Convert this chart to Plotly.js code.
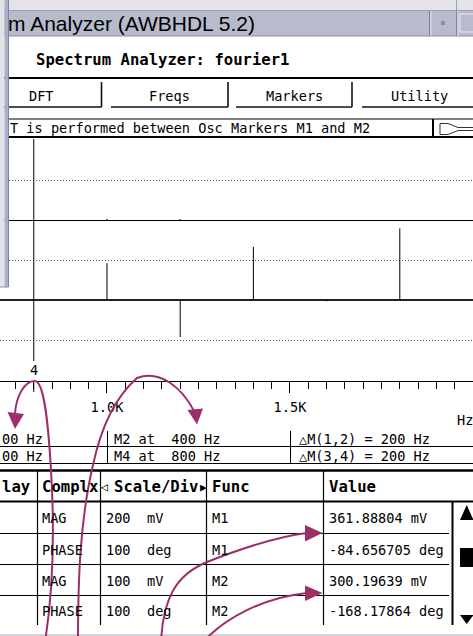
<!DOCTYPE html>
<html><head><meta charset="utf-8">
<script src="https://cdn.plot.ly/plotly-3.0.1.min.js"></script>
<style>html,body{margin:0;padding:0;background:#fff;overflow:hidden}</style>
</head><body><div id="chart" style="width:473px;height:636px"></div>
<script>
// ---------------- data ----------------
const specFreqs   = [1000, 1200, 1400, 1600, 1800];   // Hz
const lowerValues = [92, -93, 133, -3, 179];           // mV (lower trace)
const upperValues = [2, 2, 0, 0, 0];                   // mV (upper trace)
const markerNames = ['M1', 'M2', 'M3', 'M4'];
const markerFreqs = [200, 400, 600, 800];              // Hz
const xTickVals   = [1000, 1500, 2000];
const xTickText   = ['1.0K', '1.5K', ''];
const buttonLabels = ['DFT', 'Freqs', 'Markers', 'Utility'];
const tableHeader = ['lay', 'Complx', 'Scale/Div', 'Func', 'Value'];
const rowComplex  = ['MAG', 'PHASE', 'MAG', 'PHASE'];
const rowScale    = ['200', '100', '100', '100'];
const rowUnit     = ['mV', 'deg', 'mV', 'deg'];
const rowFunc     = ['M1', 'M1', 'M2', 'M2'];
const rowValue    = ['361.88804 mV', '-84.656705 deg', '300.19639 mV', '-168.17864 deg'];
const windowTitle = 'm Analyzer (AWBHDL 5.2)';
const panelTitle  = 'Spectrum Analyzer: fourier1';
const infoText    = 'T is performed between Osc Markers M1 and M2';

// ---------------- geometry helpers ----------------
const W = 473, H = 636, T = 138, B = 381;
const px = x => x / W;
const py = y => (B - y) / (B - T);
const MONO = 'DejaVu Sans Mono';
const PURPLE = '#9b3068';

const shapes = [];
function rect(x0, y0, x1, y1, fill, line, lw) {
  shapes.push({type: 'rect', xref: 'paper', yref: 'paper', layer: 'above',
    x0: px(x0), x1: px(x1), y0: py(y0), y1: py(y1),
    fillcolor: fill || 'rgba(0,0,0,0)', line: {color: line || 'rgba(0,0,0,0)', width: lw || 0}});
}
function seg(x0, y0, x1, y1, color, width) {
  shapes.push({type: 'line', xref: 'paper', yref: 'paper', layer: 'above',
    x0: px(x0), x1: px(x1), y0: py(y0), y1: py(y1), line: {color: color, width: width}});
}
function pathPx(cmds, fill, color, width) {
  const d = cmds.map(c => {
    const L = c[0]; const nums = c.slice(1);
    const out = [];
    for (let i = 0; i < nums.length; i += 2) out.push(px(nums[i]).toFixed(5) + ',' + py(nums[i + 1]).toFixed(5));
    return L + ' ' + out.join(' ');
  }).join(' ');
  shapes.push({type: 'path', xref: 'paper', yref: 'paper', layer: 'above', path: d,
    fillcolor: fill || 'rgba(0,0,0,0)', line: {color: color || 'rgba(0,0,0,0)', width: width || 0}});
}
const annotations = [];
function txt(x, y, text, size, opts) {
  opts = opts || {};
  annotations.push({xref: 'paper', yref: 'paper', x: px(x), y: py(y), text: text, showarrow: false,
    xanchor: opts.anchor || 'left', yanchor: 'middle', borderpad: 0,
    font: {family: opts.family || MONO, size: size, color: opts.color || '#000', weight: opts.bold ? 'bold' : 'normal'}});
}

// ---------------- window chrome ----------------
rect(0, 0, 473, 10.5, '#e4e4e8');
seg(456.5, 0, 456.5, 10, '#a0a2ac', 1);
seg(0, 10.5, 473, 10.5, '#9ea2b0', 1);
rect(0, 11, 473, 36, '#b7bbcc');
seg(0, 36, 473, 36, '#8a8e9e', 1);
seg(429.5, 11, 429.5, 36, '#80849a', 1);
seg(431, 11, 431, 36, '#dfe1ea', 1);
seg(456.5, 11, 456.5, 36, '#80849a', 1);
seg(458, 11, 458, 36, '#dfe1ea', 1);
rect(441, 21, 445, 25, '#8a8ea4');
rect(460, 14, 476, 32, null, '#e6e8ef', 1);
txt(7, 24, windowTitle, 21, {family: 'Liberation Sans'});

txt(35, 60, panelTitle, 15.6, {bold: true});
seg(0, 78, 473, 78, '#000', 2);

// buttons
const btnSpans = [[-3, 101.5], [111, 228], [236, 352], [362, 476]];
btnSpans.forEach((s, i) => {
  seg(s[0], 107, s[1], 107, '#111', 1.6);
  seg(s[1], 82, s[1], 107, '#111', 1.6);
  txt((s[0] + Math.min(s[1], 473)) / 2 + (i === 0 ? -8 : 0) + (i === 3 ? 2 : 0), 96, buttonLabels[i], 13.6, {anchor: 'center'});
});

// info text box
seg(9, 119, 473, 119, '#000', 1);
seg(9, 137, 473, 137, '#000', 2);
seg(433, 119, 433, 137, '#000', 2);
txt(9, 128.5, infoText, 13.6);
pathPx([['M', 440, 123.5], ['L', 448, 123.5], ['L', 458, 127.5], ['L', 474, 127.5],
        ['M', 440, 134.5], ['L', 448, 134.5], ['L', 458, 130.5], ['L', 474, 130.5],
        ['M', 440, 123.5], ['L', 440, 134.5]], null, '#333', 1);

// left background window strip
rect(0, 0, 4.5, 287, '#e2e3e9');
rect(4.5, 0, 8.5, 287, '#aab1c7');
seg(8.5, 0, 8.5, 287, '#7c84a0', 1);
seg(0, 287, 8.5, 287, '#8a90a6', 1);

// ---------------- marker (data driven) ----------------
const shownIdx = 3;
shapes.push({type: 'line', xref: 'x', yref: 'paper', layer: 'above',
  x0: markerFreqs[shownIdx], x1: markerFreqs[shownIdx], y0: py(361), y1: py(139), line: {color: '#000', width: 1}});
shapes.push({type: 'line', xref: 'x', yref: 'paper', layer: 'above',
  x0: markerFreqs[shownIdx], x1: markerFreqs[shownIdx], y0: py(381), y1: py(392), line: {color: '#000', width: 1}});
annotations.push({xref: 'x', yref: 'paper', x: markerFreqs[shownIdx], y: py(370), text: markerNames[shownIdx].slice(1),
  showarrow: false, xanchor: 'center', yanchor: 'middle', font: {family: MONO, size: 13.6, color: '#000'}});
txt(456, 420, 'Hz', 13.6);

// marker info rows
seg(107.5, 431, 107.5, 463, '#000', 1);
seg(290.5, 431, 290.5, 463, '#000', 1);
seg(0, 446.5, 473, 446.5, '#000', 1);
seg(0, 463.5, 473, 463.5, '#000', 1);
seg(0, 470.5, 473, 470.5, '#000', 2.5);
const mLabel = i => markerNames[i] + ' at  ' + markerFreqs[i] + ' Hz';
txt(1, 439, mLabel(0).slice(-5), 13.6);
txt(1, 456, mLabel(2).slice(-5), 13.6);
txt(113, 439, mLabel(1), 13.6);
txt(113, 456, mLabel(3), 13.6);
txt(298, 439, '\u25B3M(1,2) = ' + (markerFreqs[1] - markerFreqs[0]) + ' Hz', 13.6);
txt(298, 456, '\u25B3M(3,4) = ' + (markerFreqs[3] - markerFreqs[2]) + ' Hz', 13.6);

// ---------------- table ----------------
[37.5, 100.5, 206.5, 323.5].forEach(x => seg(x, 471, x, 625, '#000', 1.2));
seg(0, 501.5, 473, 501.5, '#000', 2);
[533.5, 564.5, 595.5].forEach(y => seg(0, y, 449, y, '#000', 1));
seg(452.5, 502, 452.5, 625, '#000', 2);
pathPx([['M', 460, 520], ['L', 466.7, 505], ['L', 473.5, 520], ['Z']], '#000');
rect(460, 548, 474, 567, '#000');
pathPx([['M', 460, 615], ['L', 473.5, 615], ['L', 466.7, 624], ['Z']], '#000');
rect(0, 634, 473, 636, '#d4d4da');

txt(1, 487, tableHeader[0], 15.6, {bold: true});
txt(41, 487, tableHeader[1], 15.6, {bold: true});
txt(98.5, 487, '\u25C1', 12, {});
txt(113, 487, tableHeader[2], 15.6, {bold: true});
txt(199, 487, '\u25B6', 11, {});
txt(211, 487, tableHeader[3], 15.6, {bold: true});
txt(328, 487, tableHeader[4], 15.6, {bold: true});
const rowY = [518, 549.5, 580.5, 611];
rowY.forEach((y, i) => {
  txt(41, y, rowComplex[i], 13.6);
  txt(104.5, y, rowScale[i], 13.6);
  txt(146, y, rowUnit[i], 13.6);
  txt(210.5, y, rowFunc[i], 13.6);
  txt(328, y, rowValue[i], 13.6);
});

// ---------------- purple hand-drawn arrows ----------------
pathPx([['M', 15, 414], ['C', 16, 397, 24, 381, 34.7, 381], ['C', 44, 381, 48, 420, 51, 470],
        ['C', 54, 520, 54, 585, 45, 642]], null, PURPLE, 2);
pathPx([['M', 7.5, 412], ['L', 24, 414], ['L', 15, 429], ['Z']], PURPLE);
pathPx([['M', 78, 642], ['C', 78, 580, 80, 520, 93, 465], ['C', 100, 432, 112, 400, 137, 378],
        ['C', 160, 369, 182, 388, 194, 411]], null, PURPLE, 2);
pathPx([['M', 187.5, 410], ['L', 203, 408.5], ['L', 197, 424.5], ['Z']], PURPLE);
pathPx([['M', 161, 642], ['C', 163, 600, 175, 575, 207, 562], ['C', 240, 549, 275, 537, 307, 533]], null, PURPLE, 2);
pathPx([['M', 305, 525], ['L', 322.5, 533], ['L', 305, 541.5], ['Z']], PURPLE);
pathPx([['M', 203, 642], ['C', 225, 618, 262, 598, 307, 593]], null, PURPLE, 2);
pathPx([['M', 305, 585.5], ['L', 322.5, 593], ['L', 305, 601], ['Z']], PURPLE);

// ---------------- spectrum traces ----------------
function stems(freqs, vals) {
  const xs = [], ys = [];
  freqs.forEach((f, i) => { xs.push(f, f, null); ys.push(0, vals[i], null); });
  return {x: xs, y: ys};
}
const lo = stems(specFreqs, lowerValues);
const up = stems(specFreqs, upperValues);
const traces = [
  {type: 'scatter', mode: 'lines', x: lo.x, y: lo.y, yaxis: 'y', line: {color: '#000', width: 1},
   hoverinfo: 'skip', showlegend: false, connectgaps: false},
  {type: 'scatter', mode: 'lines', x: up.x, y: up.y, yaxis: 'y2', line: {color: '#000', width: 1.5},
   hoverinfo: 'skip', showlegend: false, connectgaps: false}
];

const layout = {
  width: W, height: H,
  margin: {l: 0, r: 0, t: T, b: H - B, pad: 0},
  paper_bgcolor: '#ffffff', plot_bgcolor: '#ffffff',
  showlegend: false,
  xaxis: {range: [707.7, 2000], tickmode: 'array', tickvals: xTickVals, ticktext: xTickText,
    ticks: 'outside', ticklen: 11, tickwidth: 1, tickcolor: '#000',
    showline: true, linecolor: '#000', linewidth: 1, showgrid: false, zeroline: false,
    tickfont: {family: MONO, size: 13.6, color: '#000'}, ticklabelstandoff: 3,
    minor: {tickmode: 'linear', tick0: 0, dtick: 50, ticks: 'outside', ticklen: 7, tickwidth: 1, tickcolor: '#000', showgrid: false},
    fixedrange: true},
  yaxis: {range: [-202.5, 405], tickmode: 'array', tickvals: [-100, 100, 300], showticklabels: false, ticks: '',
    showgrid: true, gridcolor: '#555', gridwidth: 1, griddash: '1px,2px',
    zeroline: true, zerolinecolor: '#222', zerolinewidth: 1.3, showline: false, fixedrange: true},
  yaxis2: {range: [-402.5, 205], overlaying: 'y', showticklabels: false, ticks: '', showgrid: false,
    zeroline: true, zerolinecolor: '#000', zerolinewidth: 1, showline: false, fixedrange: true},
  shapes: shapes,
  annotations: annotations
};
Plotly.newPlot('chart', traces, layout, {staticPlot: true, displayModeBar: false});
</script></body></html>
